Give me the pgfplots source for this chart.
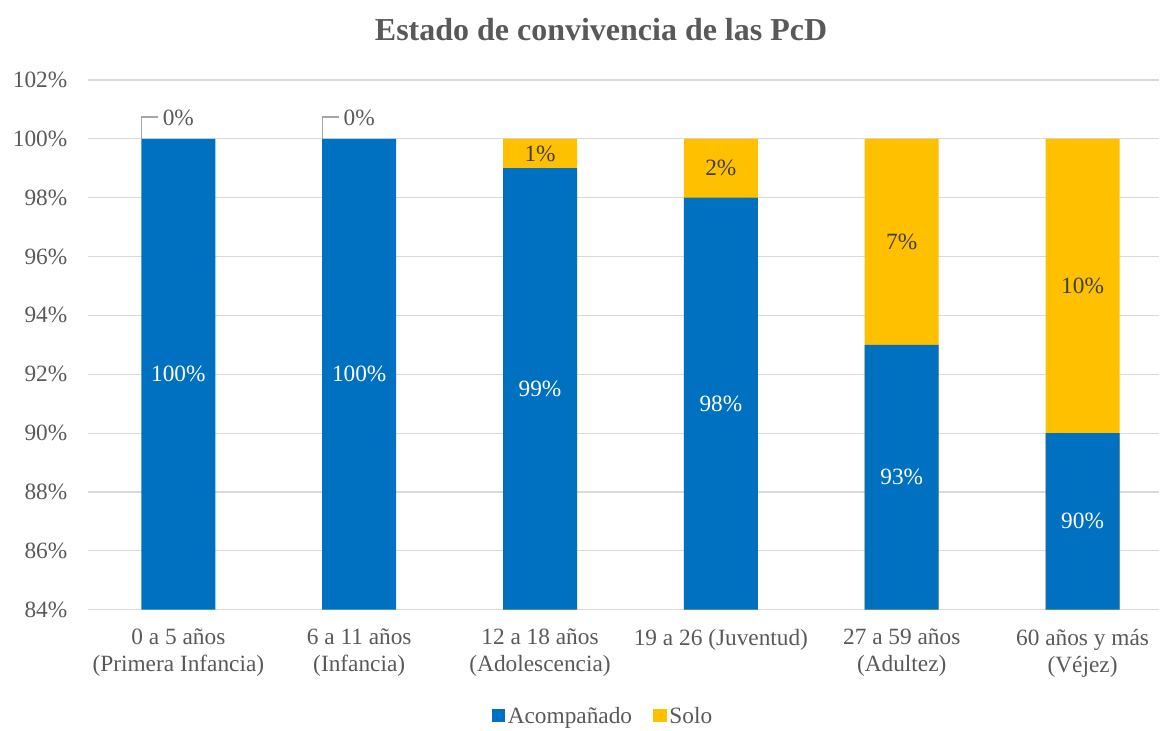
\documentclass[border=0pt]{standalone}
\usepackage{fontspec}
\setmainfont{Liberation Serif}
\usepackage{pgfplots}
\pgfplotsset{compat=1.18}
\definecolor{cblue}{HTML}{0070C0}
\definecolor{cyel}{HTML}{FFC000}
\definecolor{ctxt}{HTML}{595959}
\definecolor{cdark}{HTML}{404040}
\definecolor{cgrid}{HTML}{D9D9D9}
\definecolor{ccall}{HTML}{A6A6A6}
\begin{document}
\begin{tikzpicture}
\begin{axis}[
  name=ax,
  scale only axis, width=804pt, height=397.5pt,
  xmin=-0.5, xmax=5.425, ymin=84, ymax=102,
  ytick={84,86,...,102},
  yticklabel={\pgfmathprintnumber{\tick}\%},
  /pgf/number format/assume math mode=true,
  ymajorgrids, grid style={cgrid, line width=0.9pt},
  axis line style={draw=none},
  tick style={draw=none},
  xtick={0,...,5},
  xticklabels={{0 a 5 años\\(Primera Infancia)},{6 a 11 años\\(Infancia)},{12 a 18 años\\(Adolescencia)},{19 a 26 (Juventud)},{27 a 59 años\\(Adultez)},{60 años y más\\(Véjez)}},
  xticklabel style={align=center, font=\fontsize{17.5}{20.25}\selectfont, text=ctxt, anchor=north, yshift=-11pt},
  yticklabel style={font=\fontsize{17.5}{20}\selectfont, text=ctxt, xshift=-12pt},
  title={\textbf{Estado de convivencia de las PcD}},
  title style={at={(0.5,1)}, anchor=center, yshift=32pt, xshift=-17pt, font=\fontsize{24}{28}\selectfont, text=ctxt},
  legend style={at={(0.481,-0.201)}, anchor=center, draw=none, legend columns=2, font=\fontsize{17.5}{20}\selectfont, text=ctxt, /tikz/every even column/.append style={column sep=14pt}},
  legend image code/.code={\fill[#1] (0pt,-4.5pt) rectangle (10pt,5.5pt);},
  clip=true,
]
\addplot[ybar, bar width=55.5pt, bar shift=0pt, fill=cyel, draw=none, forget plot] coordinates {(2,100) (3,100) (4,100) (5,100)};
\addplot[ybar, bar width=55.5pt, bar shift=0pt, fill=cblue, draw=none] coordinates {(0,100) (1,100) (2,99) (3,98) (4,93) (5,90)};
\addlegendentry{Acompañado}
\addlegendimage{fill=cyel, draw=none}
\addlegendentry{Solo}
% callout lines
\addplot[ccall, line width=1.2pt, forget plot] coordinates {(-0.203,100) (-0.203,100.74) (-0.11,100.74)};
\addplot[ccall, line width=1.2pt, forget plot] coordinates {(0.797,100) (0.797,100.74) (0.89,100.74)};
% labels in blue bars
\addplot[only marks, mark=none, forget plot, point meta=explicit,
  nodes near coords={\pgfmathprintnumber{\pgfplotspointmeta}\%},
  every node near coord/.append style={anchor=center, text=white, font=\fontsize{17.5}{20}\selectfont}]
  table[meta=v] {
x y v
0 92 100
1 92 100
2 91.5 99
3 91 98
4 88.5 93
5 87 90
};
% labels in yellow bars
\addplot[only marks, mark=none, forget plot, point meta=explicit,
  nodes near coords={\pgfmathprintnumber{\pgfplotspointmeta}\%},
  every node near coord/.append style={anchor=center, text=cdark, font=\fontsize{17.5}{20}\selectfont}]
  table[meta=v] {
x y v
2 99.5 1
3 99 2
4 96.5 7
5 95 10
};
% labels above the full bars
\addplot[only marks, mark=none, forget plot, point meta=explicit,
  nodes near coords={\pgfmathprintnumber{\pgfplotspointmeta}\%},
  every node near coord/.append style={anchor=center, text=ctxt, font=\fontsize{17.5}{20}\selectfont}]
  table[meta=v] {
x y v
0 100.7 0
1 100.7 0
};
\end{axis}
\path ([xshift=-66pt,yshift=-89.25pt]ax.south west) rectangle ([yshift=60pt]ax.north east);
\end{tikzpicture}
\end{document}
